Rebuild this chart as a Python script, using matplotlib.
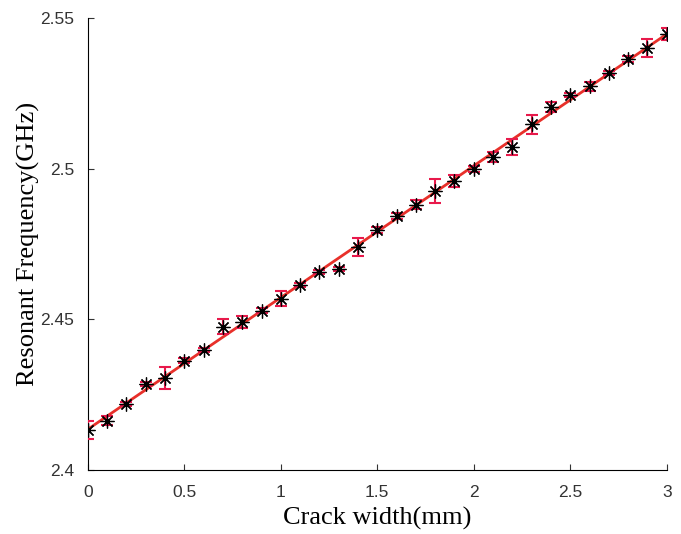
import numpy as np
import matplotlib.pyplot as plt

# crack width (mm) and measured resonant frequency (GHz)
width_mm = [0.0, 0.1, 0.2, 0.3, 0.4, 0.5, 0.6, 0.7, 0.8, 0.9,
            1.0, 1.1, 1.2, 1.3, 1.4, 1.5, 1.6, 1.7, 1.8, 1.9,
            2.0, 2.1, 2.2, 2.3, 2.4, 2.5, 2.6, 2.7, 2.8, 2.9, 3.0]
freq_ghz = [2.4133, 2.4163, 2.4219, 2.4285, 2.4305, 2.4362, 2.4398, 2.4475,
            2.4491, 2.4528, 2.4568, 2.4614, 2.4657, 2.4667, 2.4740, 2.4797,
            2.4843, 2.4880, 2.4926, 2.4959, 2.4999, 2.5039, 2.5072, 2.5148,
            2.5205, 2.5245, 2.5274, 2.5318, 2.5364, 2.5401, 2.5447]
err_ghz = [0.0030, 0.0015, 0.0008, 0.0008, 0.0037, 0.0008, 0.0008, 0.0025,
           0.0020, 0.0008, 0.0025, 0.0008, 0.0008, 0.0008, 0.0030, 0.0010,
           0.0010, 0.0015, 0.0040, 0.0020, 0.0010, 0.0015, 0.0028, 0.0032,
           0.0015, 0.0008, 0.0015, 0.0008, 0.0010, 0.0030, 0.0020]

x = np.array(width_mm)
y = np.array(freq_ghz)
k, b = np.polyfit(x, y, 1)

fig = plt.figure(figsize=(6.81, 5.34), dpi=100)
ax = fig.add_axes([0.129, 0.120, 0.850, 0.846])

ax.plot(x, k * x + b, color='#e8302a', lw=2, zorder=2)
ax.errorbar(x, y, yerr=err_ghz, fmt='none', ecolor='#e8194b',
            elinewidth=1.5, capsize=4, capthick=1.5, zorder=3)
ax.plot(x, y, ls='none', marker=(8, 2, 0), ms=10, mew=0.9,
        color='black', zorder=4)

ax.set_xlim(0, 3)
ax.set_ylim(2.4, 2.55)
ax.set_xticks([0, 0.5, 1, 1.5, 2, 2.5, 3])
ax.set_xticklabels(['0', '0.5', '1', '1.5', '2', '2.5', '3'])
ax.set_yticks([2.4, 2.45, 2.5, 2.55])
ax.set_yticklabels(['2.4', '2.45', '2.5', '2.55'])

ax.spines['top'].set_visible(False)
ax.spines['right'].set_visible(False)
ax.tick_params(direction='in', length=4, labelsize=12.5, colors='#333333',
               labelfontfamily='Liberation Sans')
ax.tick_params(axis='x', pad=11)
ax.tick_params(axis='y', pad=10)

ax.set_xlabel('Crack width(mm)', fontsize=19, family='Liberation Serif',
              labelpad=5)
ax.set_ylabel('Resonant Frequency(GHz)', fontsize=19,
              family='Liberation Serif', labelpad=0)

fig.savefig('out.png', dpi=100)
